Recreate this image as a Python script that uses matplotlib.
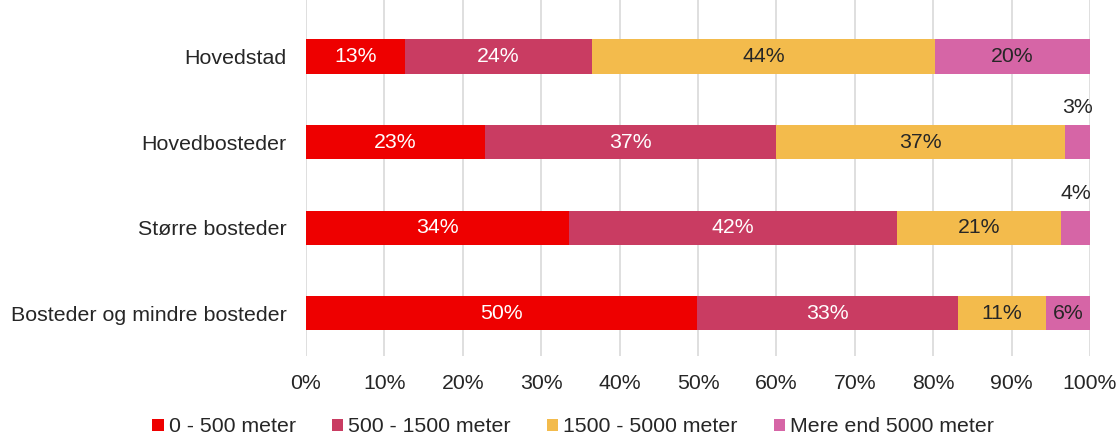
import numpy as np
import matplotlib
matplotlib.use("Agg")
import matplotlib.pyplot as plt

plt.rcParams['font.family'] = ['Liberation Sans', 'DejaVu Sans']

# --- Data: share of residents by distance, per settlement type (percent) ---
categories = ["Hovedstad", "Hovedbosteder", "Større bosteder",
              "Bosteder og mindre bosteder"]
series_names = ["0 - 500 meter", "500 - 1500 meter",
                "1500 - 5000 meter", "Mere end 5000 meter"]
dist_0_500 = [12.6, 22.8, 33.5, 49.9]
dist_500_1500 = [23.9, 37.2, 41.9, 33.3]
dist_1500_5000 = [43.7, 36.8, 20.9, 11.2]
dist_5000_plus = [19.8, 3.2, 3.7, 5.6]
xticks = [0, 10, 20, 30, 40, 50, 60, 70, 80, 90, 100]

colors = ["#EE0000", "#C93C62", "#F3BB4C", "#D665A6"]
text_colors = ["white", "white", "#262626", "#262626"]
dark = "#262626"

fig = plt.figure(figsize=(11.18, 4.38), dpi=100)
ax = fig.add_axes([0.2737, 0.187, 0.7013, 0.813])

y = np.arange(len(categories))
left = np.zeros(len(categories))
series = [dist_0_500, dist_500_1500, dist_1500_5000, dist_5000_plus]

for vals, name, col, tcol in zip(series, series_names, colors, text_colors):
    vals = np.array(vals)
    ax.barh(y, vals, left=left, height=0.4, color=col, label=name, zorder=3)
    for yi, (l, v) in enumerate(zip(left, vals)):
        label = f"{v:.0f}%"
        if v < 5:
            # thin segments get their label above the bar
            ax.text(l + v / 2, yi - 0.4, label, ha="center", va="center",
                    color=dark, fontsize=15.3, zorder=4)
        else:
            ax.text(l + v / 2, yi, label, ha="center", va="center",
                    color=tcol, fontsize=15.3, zorder=4)
    left += vals

ax.set_xlim(0, 100)
ax.set_ylim(3.5, -0.66)
ax.set_yticks(y)
ax.set_yticklabels(categories, fontsize=15.4, color=dark)
ax.set_xticks(xticks)
ax.set_xticklabels([f"{t}%" for t in xticks], fontsize=15.3, color=dark)
ax.tick_params(axis="both", length=0)
ax.tick_params(axis="x", pad=13)
ax.tick_params(axis="y", pad=14)
ax.grid(axis="x", color="#D9D9D9", linewidth=1.2, zorder=0)
for s in ax.spines.values():
    s.set_visible(False)

fig.legend(loc="center", bbox_to_anchor=(0.5125, 1 - 427 / 438), ncol=4,
           frameon=False, fontsize=15.3, handlelength=0.55, handleheight=0.55,
           handletextpad=0.22, columnspacing=1.7, labelcolor=dark,
           borderaxespad=0, borderpad=0)

fig.savefig("out.png", dpi=100)
